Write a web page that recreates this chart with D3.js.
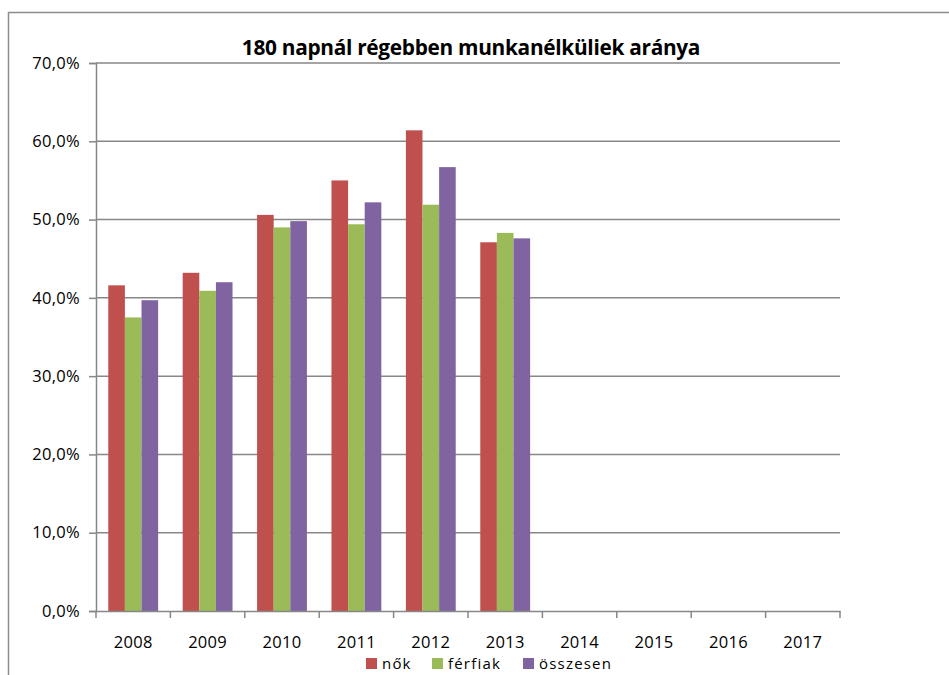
<!DOCTYPE html>
<html>
<head>
<meta charset="utf-8">
<script src="https://cdn.jsdelivr.net/npm/d3@7"></script>
<style>
  body { margin: 0; background: #fff; }
  svg text { font-family: "Open Sans", "DejaVu Sans", sans-serif; fill: #000; }
</style>
</head>
<body>
<div id="chart"></div>
<script>

var years = ["2008", "2009", "2010", "2011", "2012", "2013", "2014", "2015", "2016", "2017"];
var seriesNames = ["nők", "férfiak", "összesen"];
var nok = [41.6, 43.2, 50.6, 55.0, 61.4, 47.1];
var ferfiak = [37.5, 40.9, 49.0, 49.4, 51.9, 48.3];
var osszesen = [39.7, 42.0, 49.8, 52.2, 56.7, 47.6];
var yTicks = [0, 10, 20, 30, 40, 50, 60, 70];
var colors = ["#C0504D", "#9BBB59", "#8064A2"];

var width = 949, height = 675;
var margin = { left: 96, right: 109, top: 63, bottom: 64 };

var svg = d3.select("#chart").append("svg")
  .attr("width", width)
  .attr("height", height);

// outer chart frame
svg.append("rect")
  .attr("x", 8.5)
  .attr("y", 12.5)
  .attr("width", width + 20)
  .attr("height", height + 20)
  .attr("fill", "none")
  .attr("stroke", "#8c8c8c")
  .attr("stroke-width", 1.5);

var x = d3.scaleBand()
  .domain(years)
  .range([margin.left, width - margin.right])
  .paddingInner(0.33)
  .paddingOuter(0.165);

var x1 = d3.scaleBand()
  .domain(seriesNames)
  .range([0, x.bandwidth()]);

var y = d3.scaleLinear()
  .domain([0, 70])
  .range([height - margin.bottom, margin.top]);

// gridlines
svg.append("g")
  .attr("class", "grid")
  .selectAll("line")
  .data(yTicks.filter(function(d) { return d > 0; }))
  .join("line")
  .attr("x1", margin.left)
  .attr("x2", width - margin.right)
  .attr("y1", function(d) { return y(d); })
  .attr("y2", function(d) { return y(d); })
  .attr("stroke", "#878787")
  .attr("stroke-width", 1.5);

// bars
var values = [nok, ferfiak, osszesen];
var barData = [];
values.forEach(function(arr, si) {
  arr.forEach(function(v, i) {
    barData.push({ year: years[i], series: seriesNames[si], value: v, color: colors[si] });
  });
});

svg.append("g")
  .attr("class", "bars")
  .selectAll("rect")
  .data(barData)
  .join("rect")
  .attr("x", function(d) { return x(d.year) + x1(d.series); })
  .attr("width", x1.bandwidth())
  .attr("y", function(d) { return y(d.value); })
  .attr("height", function(d) { return y(0) - y(d.value); })
  .attr("fill", function(d) { return d.color; });

// y axis
var yAxis = svg.append("g")
  .attr("transform", "translate(" + margin.left + ",0)")
  .call(d3.axisLeft(y)
    .tickValues(yTicks)
    .tickSize(7)
    .tickPadding(9)
    .tickFormat(function(d) { return d3.format(".1f")(d).replace(".", ",") + "%"; }));

// x axis
var xAxis = svg.append("g")
  .attr("transform", "translate(0," + y(0) + ")")
  .call(d3.axisBottom(x).tickSize(0).tickPadding(25));

// x axis ticks at band boundaries
xAxis.selectAll(".boundary")
  .data(d3.range(years.length + 1))
  .join("line")
  .attr("class", "boundary")
  .attr("x1", function(i) { return margin.left + i * x.step(); })
  .attr("x2", function(i) { return margin.left + i * x.step(); })
  .attr("y1", 0)
  .attr("y2", 7)
  .attr("stroke", "#878787")
  .attr("stroke-width", 1.5);

[yAxis, xAxis].forEach(function(ax) {
  ax.select(".domain").attr("stroke", "#878787").attr("stroke-width", 1.5);
  ax.selectAll(".tick line").attr("stroke", "#878787").attr("stroke-width", 1.5);
  ax.selectAll("text")
    .style("font-family", "'Open Sans', sans-serif")
    .style("font-size", "16.5px")
    .style("letter-spacing", "0.3px")
    .attr("fill", "#000");
});

// title
var title = svg.append("text")
  .attr("x", 471)
  .attr("y", 55)
  .attr("text-anchor", "middle")
  .style("font-family", "'Liberation Sans Narrow', 'Open Sans', sans-serif")
  .style("font-weight", "bold")
  .style("font-size", "20px")
  .style("letter-spacing", "-0.3px")
  .text("180 napnál régebben munkanélküliek aránya");

var tw = title.node().getComputedTextLength();
title.style("font-size", (20 * 458 / tw).toFixed(2) + "px");

// legend
var legendX = [366, 432, 523];
var legend = svg.append("g").attr("class", "legend");

var item = legend.selectAll("g")
  .data(seriesNames)
  .join("g")
  .attr("transform", function(d, i) { return "translate(" + legendX[i] + ",658)"; });

item.append("rect")
  .attr("width", 11)
  .attr("height", 11)
  .attr("fill", function(d, i) { return colors[i]; });

item.append("text")
  .attr("x", 16)
  .attr("y", 11)
  .style("font-size", "15px")
  .style("letter-spacing", "1.2px")
  .text(function(d) { return d; });

</script>
</body>
</html>
